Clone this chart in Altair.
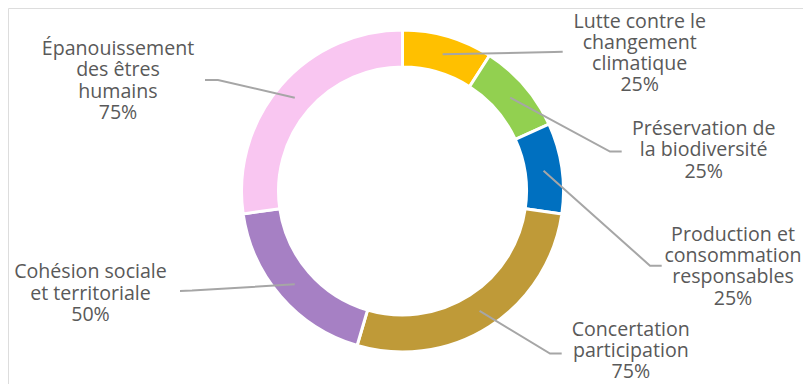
import math
import pandas as pd
import altair as alt

# ---- data ----
categories = [
    "Lutte contre le changement climatique",
    "Préservation de la biodiversité",
    "Production et consommation responsables",
    "Concertation participation",
    "Cohésion sociale et territoriale",
    "Épanouissement des êtres humains",
]
values = [25, 25, 25, 75, 50, 75]
label_texts = [
    "Lutte contre le\nchangement\nclimatique",
    "Préservation de\nla biodiversité",
    "Production et\nconsommation\nresponsables",
    "Concertation\nparticipation",
    "Cohésion sociale\net territoriale",
    "Épanouissement\ndes êtres\nhumains",
]
percent_labels = ["25%", "25%", "25%", "75%", "50%", "75%"]

# ---- style / layout ----
colors = ["#FFC000", "#92D050", "#0070C0", "#BF9A38", "#A680C4", "#F9C6F1"]
W, H = 795, 376
CX, CY = 394.5, 183
R_OUT, R_IN = 161, 124
R_MID = (R_OUT + R_IN) / 2
# label anchor (x, first baseline y) and leader-line elbow / end, in pixels
label_pos = [(631.7, 19.5), (695.7, 127), (725, 232.7),
             (622.8, 327.5), (82.5, 270.3), (110, 47)]
leader_elbow = [(546, 44), (602, 143.6), (642, 257.7),
                (542, 345.5), (184, 282.6), (210, 72)]
leader_end = [(554.7, 43.8), (613.7, 143.6), (653.7, 257.7),
              (553.7, 345.5), (172, 283), (197, 72)]

df = pd.DataFrame({"cat": categories, "value": values, "idx": list(range(len(values)))})

total = sum(values)
rows = []
cum = 0
for i, v in enumerate(values):
    mid = (cum + v / 2) / total * 2 * math.pi
    cum += v
    sx = CX + R_MID * math.sin(mid)
    sy = CY - R_MID * math.cos(mid)
    pts = [(sx, sy), leader_elbow[i], leader_end[i]]
    for k, (px, py) in enumerate(pts):
        rows.append({"cat": categories[i], "k": k, "x": px, "y": py})
lines_df = pd.DataFrame(rows)

text_df = pd.DataFrame({
    "cat": categories,
    "label": [t + "\n" + p for t, p in zip(label_texts, percent_labels)],
    "x": [p[0] for p in label_pos],
    "y": [p[1] for p in label_pos],
})

xs = alt.Scale(domain=[0, W], range=[0, W])
ys = alt.Scale(domain=[0, H], range=[0, H])

arcs = alt.Chart(df).mark_arc(
    outerRadius=R_OUT, innerRadius=R_IN, stroke="white", strokeWidth=3
).encode(
    theta=alt.Theta("value:Q", stack=True),
    color=alt.Color("cat:N", scale=alt.Scale(domain=categories, range=colors), legend=None),
    order=alt.Order("idx:Q"),
    x=alt.value(CX),
    y=alt.value(CY),
)

leaders = alt.Chart(lines_df).mark_line(color="#A6A6A6", strokeWidth=2).encode(
    x=alt.X("x:Q", scale=xs, axis=None),
    y=alt.Y("y:Q", scale=ys, axis=None),
    detail="cat:N",
    order="k:Q",
)

labels = alt.Chart(text_df).mark_text(
    align="center", baseline="alphabetic", lineBreak="\n", lineHeight=21.3,
    font="Open Sans", fontSize=19.6, color="#595959"
).encode(
    x=alt.X("x:Q", scale=xs, axis=None),
    y=alt.Y("y:Q", scale=ys, axis=None),
    text="label:N",
)

chart = alt.layer(arcs, leaders, labels).properties(
    width=W, height=H, padding=0, autosize=alt.AutoSizeParams(type="none")
).configure_view(stroke=None).configure(background="white")

chart.save("out.html", embed_options={"renderer": "svg", "actions": False})
